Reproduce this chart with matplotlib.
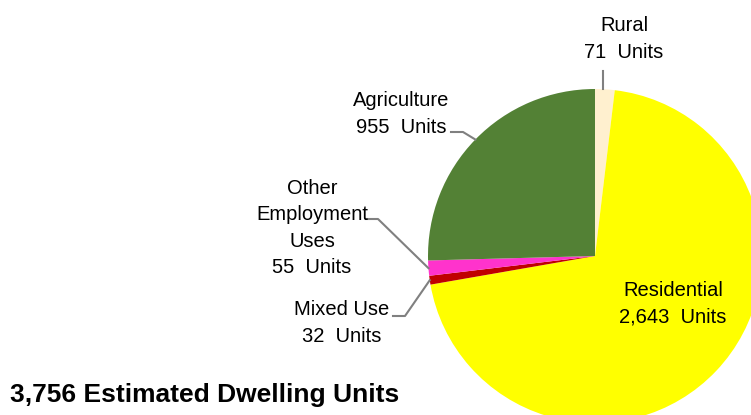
import numpy as np
import matplotlib
matplotlib.use("Agg")
import matplotlib.pyplot as plt

plt.rcParams['font.family'] = ['Liberation Sans', 'DejaVu Sans']

# ---------- Data ----------
categories = ["Rural", "Residential", "Mixed Use", "Other\nEmployment\nUses", "Agriculture"]
units = [71, 2643, 32, 55, 955]
colors = ["#FFF0CF", "#FFFF00", "#C00000", "#FF33CC", "#538135"]
title = "3,756 Estimated Dwelling Units"

W, H = 751, 415


def py(y):
    # pixel row (top-down) -> data y
    return H - y


fig = plt.figure(figsize=(W / 100, H / 100), dpi=100)
ax = fig.add_axes([0, 0, 1, 1])

cx, cy, r = 595, py(256), 167
wedges, _ = ax.pie(units, colors=colors, startangle=90, counterclock=False,
                   center=(cx, cy), radius=r, wedgeprops=dict(linewidth=0))
ax.set_xlim(0, W)
ax.set_ylim(0, H)
ax.set_aspect('equal')
ax.axis('off')


def edge(w):
    a = np.deg2rad((w.theta1 + w.theta2) / 2)
    return cx + r * np.cos(a), cy + r * np.sin(a)


labels = [f"{c}\n{u:,}  Units" for c, u in zip(categories, units)]
fnt = dict(fontsize=14.5, linespacing=1.5)
line_col = "#808080"

# Rural
ax.text(624, py(39), labels[0], ha='center', va='center', **fnt)
ex, ey = edge(wedges[0])
ax.plot([603, 603], [py(71), ey], color=line_col, lw=1.5)

# Residential (inside)
ax.text(673, py(304), labels[1], ha='center', va='center', **fnt)

# Mixed Use
ax.text(342, py(323), labels[2], ha='center', va='center', **fnt)
ex, ey = edge(wedges[2])
ax.plot([393, 405, ex], [py(316), py(316), ey], color=line_col, lw=1.5)

# Other Employment Uses
ax.text(312, py(228), labels[3], ha='center', va='center', **fnt)
ex, ey = edge(wedges[3])
ax.plot([366, 378, ex], [py(219), py(219), ey], color=line_col, lw=1.5)

# Agriculture
ax.text(401, py(114), labels[4], ha='center', va='center', **fnt)
ex, ey = edge(wedges[4])
ax.plot([451, 463, ex], [py(132), py(132), ey], color=line_col, lw=1.5)

ax.text(10, py(395), title, ha='left', va='center', fontsize=19, fontweight='bold')

fig.savefig("out.png", dpi=100)
